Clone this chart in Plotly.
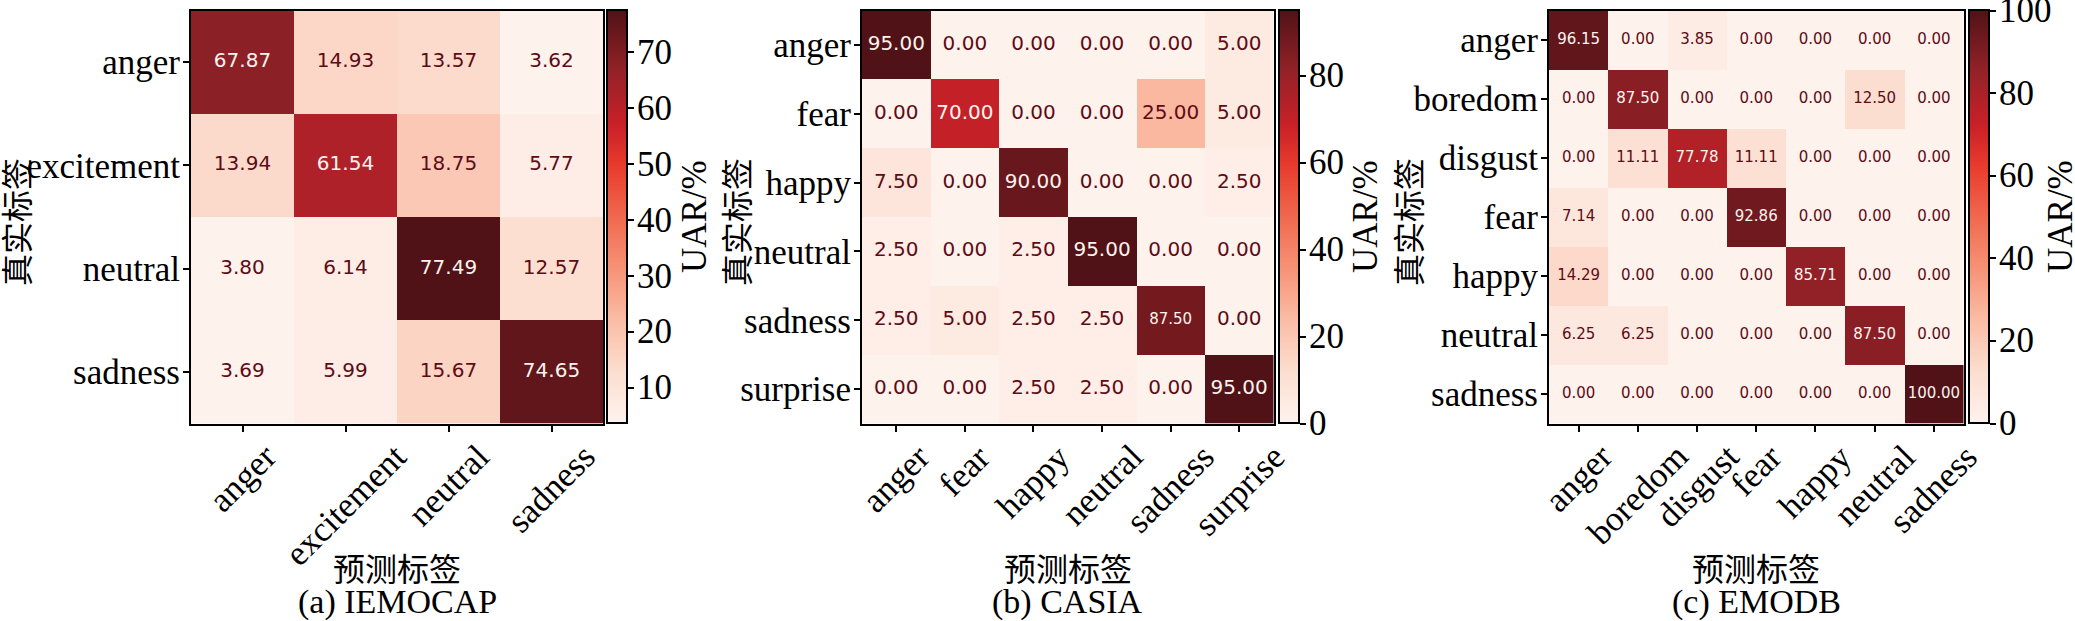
import plotly.graph_objects as go

# ---------------- data ----------------
iemocap_labels = ["anger", "excitement", "neutral", "sadness"]
iemocap_values = [
    [67.87, 14.93, 13.57, 3.62],
    [13.94, 61.54, 18.75, 5.77],
    [3.80, 6.14, 77.49, 12.57],
    [3.69, 5.99, 15.67, 74.65],
]
iemocap_cbar_ticks = [10, 20, 30, 40, 50, 60, 70]

casia_labels = ["anger", "fear", "happy", "neutral", "sadness", "surprise"]
casia_values = [
    [95.00, 0.00, 0.00, 0.00, 0.00, 5.00],
    [0.00, 70.00, 0.00, 0.00, 25.00, 5.00],
    [7.50, 0.00, 90.00, 0.00, 0.00, 2.50],
    [2.50, 0.00, 2.50, 95.00, 0.00, 0.00],
    [2.50, 5.00, 2.50, 2.50, 87.50, 0.00],
    [0.00, 0.00, 2.50, 2.50, 0.00, 95.00],
]
casia_cbar_ticks = [0, 20, 40, 60, 80]

emodb_labels = ["anger", "boredom", "disgust", "fear", "happy", "neutral", "sadness"]
emodb_values = [
    [96.15, 0.00, 3.85, 0.00, 0.00, 0.00, 0.00],
    [0.00, 87.50, 0.00, 0.00, 0.00, 12.50, 0.00],
    [0.00, 11.11, 77.78, 11.11, 0.00, 0.00, 0.00],
    [7.14, 0.00, 0.00, 92.86, 0.00, 0.00, 0.00],
    [14.29, 0.00, 0.00, 0.00, 85.71, 0.00, 0.00],
    [6.25, 6.25, 0.00, 0.00, 0.00, 87.50, 0.00],
    [0.00, 0.00, 0.00, 0.00, 0.00, 0.00, 100.00],
]
emodb_cbar_ticks = [0, 20, 40, 60, 80, 100]

captions = ["(a) IEMOCAP", "(b) CASIA", "(c) EMODB"]
x_title = "预测标签"
y_title = "真实标签"
cbar_title = "UAR/%"

# ---------------- styles ----------------
W, H = 2075, 621
TOP, BOTTOM = 10.5, 423.5
SERIF = "Liberation Serif"
CJK = "Noto Sans CJK SC"
NUMF = "DejaVu Sans"
DARK_TXT = "#5e0b15"
LIGHT_TXT = "#fff3ee"
TICK_FS = 35
CB_THICK = 20

CS = [
    [0.0, "rgb(254,242,237)"],
    [0.125, "rgb(252,222,208)"],
    [0.25, "rgb(250,188,165)"],
    [0.375, "rgb(246,146,118)"],
    [0.5, "rgb(240,104,78)"],
    [0.625, "rgb(232,58,44)"],
    [0.72, "rgb(202,32,40)"],
    [0.85, "rgb(148,34,40)"],
    [1.0, "rgb(80,18,22)"],
]

panels = [
    dict(labels=iemocap_labels, values=iemocap_values, ticks=iemocap_cbar_ticks,
         x0=191, x1=603, cbx=607, ytx=15, cbtx=694, fs=20, small=set()),
    dict(labels=casia_labels, values=casia_values, ticks=casia_cbar_ticks,
         x0=862, x1=1273.5, cbx=1278.5, ytx=735, cbtx=1365, fs=20, small={(4, 4)}),
    dict(labels=emodb_labels, values=emodb_values, ticks=emodb_cbar_ticks,
         x0=1549, x1=1963.5, cbx=1968.5, ytx=1407, cbtx=2060, fs=15, small=set()),
]

fig = go.Figure()
annotations = []
layout_axes = {}

for i, p in enumerate(panels):
    n = i + 1
    xa = "x" if n == 1 else f"x{n}"
    ya = "y" if n == 1 else f"y{n}"
    labels = p["labels"]
    vals = p["values"]
    flat = [v for row in vals for v in row]
    zmin, zmax = min(flat), max(flat)
    thresh = (zmin + zmax) / 2.0
    k = len(labels)

    fig.add_trace(go.Heatmap(
        z=vals, x=labels, y=labels, xaxis=xa, yaxis=ya,
        colorscale=CS, zmin=zmin, zmax=zmax, hoverinfo="skip",
        colorbar=dict(
            x=p["cbx"] / W, xanchor="left", xpad=0,
            y=1 - TOP / H, yanchor="top", ypad=0,
            len=BOTTOM - TOP, lenmode="pixels",
            thickness=CB_THICK, thicknessmode="pixels",
            outlinewidth=2, outlinecolor="black",
            ticks="outside", ticklen=6, tickwidth=1.5, tickcolor="black",
            tickvals=p["ticks"], showticklabels=False,
        ),
    ))

    xs, ys, txt, cols, sizes = [], [], [], [], []
    for r, row in enumerate(vals):
        for c, v in enumerate(row):
            xs.append(labels[c])
            ys.append(labels[r])
            txt.append(f"{v:.2f}")
            cols.append(LIGHT_TXT if v > thresh else DARK_TXT)
            sizes.append(15 if (r, c) in p["small"] else p["fs"])
    fig.add_trace(go.Scatter(
        x=xs, y=ys, mode="text", text=txt, xaxis=xa, yaxis=ya,
        textposition="middle center", hoverinfo="skip", showlegend=False,
        textfont=dict(family=NUMF, size=sizes, color=cols),
    ))

    key_x = "xaxis" if n == 1 else f"xaxis{n}"
    key_y = "yaxis" if n == 1 else f"yaxis{n}"
    layout_axes[key_x] = dict(
        domain=[p["x0"] / W, p["x1"] / W], anchor=ya, type="category",
        categoryorder="array", categoryarray=labels,
        range=[-0.5, k - 0.5], showgrid=False, zeroline=False,
        showline=True, mirror=True, linecolor="black", linewidth=2,
        ticks="outside", ticklen=6, tickwidth=1.5, tickcolor="black",
        showticklabels=False, fixedrange=True,
    )
    layout_axes[key_y] = dict(
        domain=[1 - BOTTOM / H, 1 - TOP / H], anchor=xa, type="category",
        categoryorder="array", categoryarray=labels,
        range=[k - 0.5, -0.5], showgrid=False, zeroline=False,
        showline=True, mirror=True, linecolor="black", linewidth=2,
        ticks="outside", ticklen=6, tickwidth=1.5, tickcolor="black",
        tickfont=dict(family=SERIF, size=TICK_FS, color="black"),
        ticklabelstandoff=-4, fixedrange=True,
    )

    # colour-bar tick labels, placed on the bar's value scale (domain fraction)
    for t in p["ticks"]:
        annotations.append(dict(
            x=(p["cbx"] + CB_THICK + 1) / W, y=(t - zmin) / (zmax - zmin),
            xref="paper", yref=f"{ya} domain", text=str(t), showarrow=False,
            xanchor="left", yanchor="middle", xshift=7,
            font=dict(family=SERIF, size=TICK_FS, color="black"),
        ))

    # rotated x tick labels (centered under tick like matplotlib)
    for lab in labels:
        annotations.append(dict(
            x=lab, y=0, xref=xa, yref=f"{ya} domain",
            text=lab, showarrow=False, textangle=-45,
            xanchor="center", yanchor="top", yshift=-11,
            font=dict(family=SERIF, size=TICK_FS, color="black"),
        ))

    cx = (p["x0"] + p["x1"]) / 2 / W
    annotations.append(dict(
        x=cx, y=1 - 567 / H, xref="paper", yref="paper", text=x_title,
        showarrow=False, xanchor="center", yanchor="middle",
        font=dict(family=CJK, size=32, color="black"),
    ))
    annotations.append(dict(
        x=cx, y=1 - 602 / H, xref="paper", yref="paper", text=captions[i],
        showarrow=False, xanchor="center", yanchor="middle",
        font=dict(family=SERIF, size=34, color="black"),
    ))
    mid = 1 - (TOP + BOTTOM) / 2 / H
    annotations.append(dict(
        x=p["ytx"] / W, y=1 - 222 / H, xref="paper", yref="paper", text=y_title,
        showarrow=False, textangle=-90, xanchor="center", yanchor="middle",
        font=dict(family=CJK, size=32, color="black"),
    ))
    annotations.append(dict(
        x=p["cbtx"] / W, y=mid, xref="paper", yref="paper", text=cbar_title,
        showarrow=False, textangle=-90, xanchor="center", yanchor="middle",
        font=dict(family=SERIF, size=35, color="black"),
    ))

fig.update_layout(
    width=W, height=H, margin=dict(l=0, r=0, t=0, b=0),
    paper_bgcolor="white", plot_bgcolor="white",
    showlegend=False, annotations=annotations, **layout_axes,
)

fig.write_html(
    "out.html",
    config={"displayModeBar": False},
    post_script="document.body.style.margin='0';document.body.style.overflow='hidden';",
)
